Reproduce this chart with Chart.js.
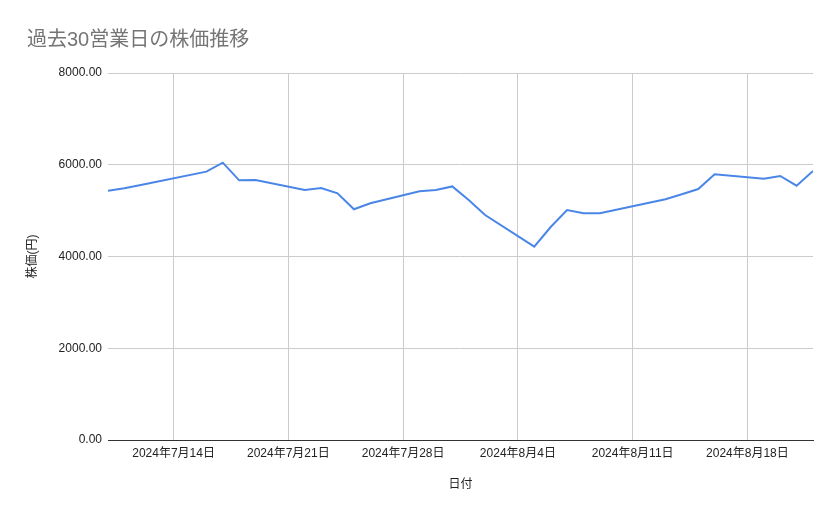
<!DOCTYPE html>
<html lang="ja">
<head>
  <meta charset="UTF-8">
  <title>過去30営業日の株価推移</title>
  <script src="https://cdn.jsdelivr.net/npm/chart.js"></script>
  <style>
    body { margin: 0; background: #fff; }
  </style>
</head>
<body>
  <canvas id="myChart" width="839" height="519"></canvas>

  <script>
    // 営業日 (2024年)
    const dates = [
      '2024-07-10', '2024-07-11', '2024-07-12', '2024-07-16', '2024-07-17',
      '2024-07-18', '2024-07-19', '2024-07-22', '2024-07-23', '2024-07-24',
      '2024-07-25', '2024-07-26', '2024-07-29', '2024-07-30', '2024-07-31',
      '2024-08-01', '2024-08-02', '2024-08-05', '2024-08-06', '2024-08-07',
      '2024-08-08', '2024-08-09', '2024-08-13', '2024-08-14', '2024-08-15',
      '2024-08-16', '2024-08-19', '2024-08-20', '2024-08-21', '2024-08-22'
    ];
    // 終値 (円)
    const prices = [
      5434, 5486, 5560, 5850, 6045,
      5660, 5668, 5450, 5493, 5378,
      5029, 5160, 5421, 5450, 5528,
      5230, 4905, 4214, 4643, 5014,
      4942, 4942, 5247, 5356, 5471,
      5792, 5696, 5755, 5544, 5864
    ];
    const weekTicks = ['2024-07-14', '2024-07-21', '2024-07-28', '2024-08-04', '2024-08-11', '2024-08-18'];
    const yTicks = [0, 2000, 4000, 6000, 8000];

    const toDay = s => {
      const [y, m, d] = s.split('-').map(Number);
      return Date.UTC(y, m - 1, d) / 86400000;
    };
    const fmtDay = v => {
      const dt = new Date(v * 86400000);
      return dt.getUTCFullYear() + '年' + (dt.getUTCMonth() + 1) + '月' + dt.getUTCDate() + '日';
    };

    const points = dates.map((d, i) => ({ x: toDay(d), y: prices[i] }));
    const font = { family: '"Liberation Sans", Arial, "Noto Sans CJK JP", sans-serif', size: 12 };

    const ctx = document.getElementById('myChart').getContext('2d');
    new Chart(ctx, {
      type: 'line',
      data: {
        datasets: [{
          label: '株価',
          data: points,
          borderColor: '#4a86e8',
          borderWidth: 2,
          pointRadius: 0,
          fill: false,
          tension: 0
        }]
      },
      options: {
        responsive: false,
        animation: false,
        devicePixelRatio: 1,
        layout: { padding: { left: 27, right: 26, top: 0, bottom: 0 } },
        plugins: {
          legend: { display: false },
          tooltip: { enabled: false },
          title: {
            display: true,
            text: '過去30営業日の株価推移',
            align: 'start',
            color: '#757575',
            font: { family: '"Liberation Sans", Arial, "Noto Sans CJK JP", sans-serif', size: 20, weight: 'normal' },
            padding: { top: 28.5, bottom: 20.5 }
          }
        },
        scales: {
          x: {
            type: 'linear',
            min: toDay(dates[0]),
            max: toDay(dates[dates.length - 1]),
            afterBuildTicks: scale => {
              scale.ticks = weekTicks.map(d => ({ value: toDay(d) }));
            },
            afterFit: scale => { scale.height = 79; },
            ticks: {
              callback: v => fmtDay(v),
              color: '#222',
              font: font,
              padding: 6,
              maxRotation: 0,
              autoSkip: false
            },
            grid: { color: '#cccccc', drawTicks: false },
            border: { display: true, color: '#333333', width: 1 },
            title: {
              display: true,
              text: '日付',
              color: '#222',
              font: font,
              padding: { top: 0, bottom: 27 }
            }
          },
          y: {
            min: 0,
            max: 8000,
            afterBuildTicks: scale => {
              scale.ticks = yTicks.map(v => ({ value: v }));
            },
            afterFit: scale => { scale.width = 81; },
            ticks: {
              callback: v => v.toFixed(2),
              color: '#222',
              font: font,
              padding: 6
            },
            grid: { color: '#cccccc', drawTicks: false },
            border: { display: false },
            title: {
              display: true,
              text: '株価(円)',
              color: '#222',
              font: { family: font.family, size: 12, lineHeight: 1 },
              padding: { top: 0, bottom: 0 }
            }
          }
        }
      }
    });
  </script>
</body>
</html>
